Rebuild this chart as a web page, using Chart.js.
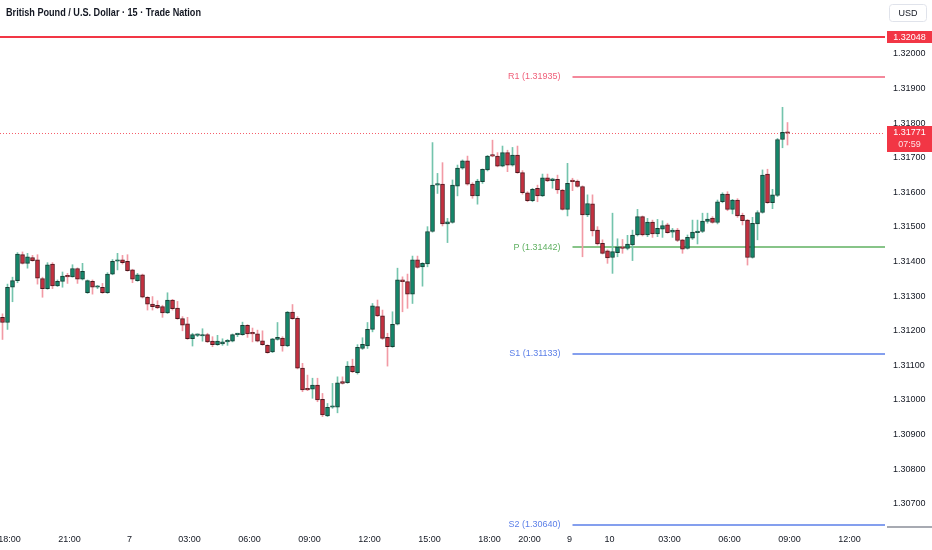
<!DOCTYPE html>
<html>
<head>
<meta charset="utf-8">
<script src="https://cdn.jsdelivr.net/npm/chart.js@4.4.1/dist/chart.umd.min.js"></script>
<style>
  html, body { margin: 0; padding: 0; background: #fff; }
  #wrap { width: 932px; height: 550px; position: relative; }
</style>
</head>
<body>
<div id="wrap"><canvas id="chart"></canvas></div>
<script>
// GBP/USD 15m candles
const openP = [
  1.31239,1.31224,1.31326,1.31345,1.31420,1.31395,1.31412,1.31405,1.31351,1.31322,
  1.31393,1.31330,1.31343,1.31360,1.31356,1.31380,1.31349,1.31310,1.31343,1.31326,
  1.31326,1.31310,1.31364,1.31401,1.31405,1.31401,1.31376,1.31345,1.31362,1.31297,
  1.31277,1.31274,1.31270,1.31252,1.31289,1.31266,1.31235,1.31220,1.31177,1.31187,
  1.31185,1.31189,1.31170,1.31160,1.31162,1.31168,1.31170,1.31189,1.31189,1.31216,
  1.31193,1.31191,1.31171,1.31158,1.31139,1.31175,1.31179,1.31156,1.31254,1.31236,
  1.31092,1.31034,1.31031,1.31043,1.31002,1.30954,1.30979,1.30979,1.31053,1.31050,
  1.31098,1.31079,1.31149,1.31156,1.31204,1.31270,1.31243,1.31181,1.31154,1.31219,
  1.31347,1.31342,1.31306,1.31405,1.31385,1.31393,1.31487,1.31621,1.31624,1.31509,
  1.31513,1.31618,1.31670,1.31691,1.31624,1.31590,1.31631,1.31665,1.31708,1.31705,
  1.31676,1.31715,1.31679,1.31708,1.31657,1.31599,1.31576,1.31612,1.31590,1.31642,
  1.31634,1.31638,1.31607,1.31551,1.31636,1.31633,1.31617,1.31535,1.31567,1.31491,
  1.31453,1.31431,1.31412,1.31426,1.31443,1.31438,1.31448,1.31477,1.31530,1.31477,
  1.31514,1.31480,1.31494,1.31506,1.31485,1.31491,1.31463,1.31438,1.31468,1.31484,
  1.31487,1.31516,1.31526,1.31513,1.31573,1.31595,1.31551,1.31578,1.31534,1.31520,
  1.31412,1.31509,1.31542,1.31653,1.31570,1.31591,1.31753,1.31773
];
const highP = [
  1.31249,1.31335,1.31355,1.31426,1.31428,1.31424,1.31418,1.31420,1.31355,1.31397,
  1.31397,1.31347,1.31370,1.31366,1.31391,1.31382,1.31395,1.31347,1.31347,1.31331,
  1.31337,1.31368,1.31406,1.31424,1.31418,1.31420,1.31378,1.31366,1.31364,1.31299,
  1.31299,1.31287,1.31274,1.31310,1.31291,1.31285,1.31241,1.31239,1.31193,1.31191,
  1.31206,1.31193,1.31183,1.31187,1.31177,1.31175,1.31191,1.31193,1.31225,1.31218,
  1.31208,1.31202,1.31200,1.31160,1.31178,1.31224,1.31183,1.31256,1.31276,1.31241,
  1.31106,1.31072,1.31063,1.31063,1.31019,1.30990,1.31048,1.31067,1.31067,1.31111,
  1.31118,1.31160,1.31180,1.31224,1.31279,1.31289,1.31260,1.31193,1.31255,1.31381,
  1.31356,1.31364,1.31416,1.31416,1.31397,1.31501,1.31744,1.31655,1.31686,1.31525,
  1.31636,1.31679,1.31694,1.31705,1.31628,1.31638,1.31668,1.31707,1.31751,1.31715,
  1.31734,1.31722,1.31730,1.31734,1.31663,1.31602,1.31612,1.31621,1.31653,1.31653,
  1.31641,1.31650,1.31609,1.31684,1.31641,1.31636,1.31619,1.31593,1.31593,1.31501,
  1.31463,1.31434,1.31540,1.31466,1.31464,1.31476,1.31491,1.31551,1.31532,1.31525,
  1.31520,1.31522,1.31518,1.31511,1.31496,1.31496,1.31464,1.31477,1.31520,1.31520,
  1.31540,1.31540,1.31530,1.31578,1.31599,1.31602,1.31580,1.31582,1.31540,1.31522,
  1.31528,1.31547,1.31665,1.31667,1.31609,1.31756,1.31846,1.31802
];
const lowP = [
  1.31175,1.31204,1.31284,1.31339,1.31393,1.31381,1.31401,1.31335,1.31297,1.31320,
  1.31322,1.31328,1.31326,1.31337,1.31355,1.31337,1.31347,1.31308,1.31306,1.31322,
  1.31308,1.31308,1.31362,1.31376,1.31393,1.31372,1.31339,1.31343,1.31295,1.31260,
  1.31260,1.31264,1.31239,1.31250,1.31260,1.31233,1.31200,1.31175,1.31156,1.31183,
  1.31170,1.31166,1.31154,1.31158,1.31158,1.31158,1.31168,1.31183,1.31187,1.31181,
  1.31168,1.31168,1.31158,1.31135,1.31137,1.31173,1.31141,1.31154,1.31233,1.31090,
  1.31024,1.31027,1.31005,1.30995,1.30952,1.30952,1.30976,1.30963,1.31046,1.31048,
  1.31079,1.31075,1.31146,1.31149,1.31197,1.31241,1.31175,1.31098,1.31152,1.31217,
  1.31255,1.31265,1.31279,1.31381,1.31329,1.31385,1.31485,1.31597,1.31503,1.31455,
  1.31511,1.31590,1.31667,1.31621,1.31583,1.31566,1.31626,1.31662,1.31703,1.31674,
  1.31674,1.31660,1.31676,1.31655,1.31595,1.31573,1.31573,1.31573,1.31588,1.31631,
  1.31612,1.31597,1.31549,1.31532,1.31605,1.31615,1.31414,1.31530,1.31474,1.31448,
  1.31422,1.31395,1.31366,1.31414,1.31424,1.31434,1.31403,1.31474,1.31474,1.31472,
  1.31470,1.31472,1.31470,1.31482,1.31470,1.31458,1.31424,1.31436,1.31464,1.31451,
  1.31484,1.31511,1.31511,1.31509,1.31570,1.31547,1.31538,1.31528,1.31506,1.31390,
  1.31410,1.31463,1.31540,1.31568,1.31553,1.31588,1.31729,1.31737
];
const closeP = [
  1.31224,1.31326,1.31345,1.31422,1.31395,1.31414,1.31403,1.31352,1.31322,1.31391,
  1.31330,1.31343,1.31358,1.31356,1.31380,1.31349,1.31372,1.31345,1.31326,1.31328,
  1.31310,1.31364,1.31401,1.31403,1.31397,1.31374,1.31349,1.31362,1.31297,1.31277,
  1.31270,1.31266,1.31252,1.31289,1.31264,1.31235,1.31216,1.31177,1.31189,1.31189,
  1.31189,1.31168,1.31160,1.31170,1.31168,1.31170,1.31189,1.31191,1.31216,1.31191,
  1.31191,1.31170,1.31160,1.31137,1.31177,1.31181,1.31156,1.31254,1.31235,1.31092,
  1.31029,1.31029,1.31043,1.31000,1.30957,1.30979,1.30983,1.31050,1.31048,1.31098,
  1.31082,1.31152,1.31161,1.31204,1.31272,1.31243,1.31178,1.31154,1.31219,1.31347,
  1.31342,1.31306,1.31405,1.31383,1.31395,1.31487,1.31621,1.31624,1.31509,1.31515,
  1.31621,1.31670,1.31691,1.31624,1.31590,1.31633,1.31667,1.31705,1.31705,1.31676,
  1.31715,1.31679,1.31708,1.31657,1.31599,1.31576,1.31609,1.31590,1.31642,1.31633,
  1.31639,1.31607,1.31551,1.31626,1.31631,1.31617,1.31535,1.31568,1.31489,1.31451,
  1.31424,1.31411,1.31429,1.31443,1.31438,1.31451,1.31477,1.31530,1.31477,1.31514,
  1.31480,1.31496,1.31504,1.31484,1.31491,1.31461,1.31436,1.31470,1.31485,1.31487,
  1.31517,1.31523,1.31513,1.31573,1.31595,1.31551,1.31578,1.31532,1.31518,1.31412,
  1.31511,1.31542,1.31650,1.31570,1.31593,1.31753,1.31774,1.31771
];

// time axis: which slot gets which label
const tickIndex = [1, 13, 25, 37, 49, 61, 73, 85, 97, 105, 113, 121, 133, 145, 157, 169];
const tickText = ['18:00', '21:00', '7', '03:00', '06:00', '09:00', '12:00', '15:00', '18:00', '20:00', '9', '10', '03:00', '06:00', '09:00', '12:00'];
const priceTicks = [1.307, 1.308, 1.309, 1.310, 1.311, 1.312, 1.313, 1.314, 1.315, 1.316, 1.317, 1.318, 1.319, 1.320];

// pivot levels for the new session
const pivotNames = ['R1', 'P', 'S1', 'S2'];
const pivotValues = [1.31935, 1.31442, 1.31133, 1.30640];
const pivotStart = 113;

const levelPrice = 1.32048;
const lastPrice = 1.31771;
const countdown = '07:59';

const slotCount = 177;   // includes empty future slots on the right
const labels = [];
for (let i = 0; i < slotCount; i++) {
    let day, mins;
    if (i < 113) { day = 6; mins = 17 * 60 + 45 + i * 15; }
    else { day = 9; mins = 22 * 60 + (i - 113) * 15; }
    day += Math.floor(mins / 1440);
    mins = mins % 1440;
    labels.push(day + ' ' + String(Math.floor(mins / 60)).padStart(2, '0') + ':' + String(mins % 60).padStart(2, '0'));
}

const UP = '#13876a', UP_EDGE = '#173f35', UP_WICK = '#74c4ad';
const DN = '#c5303f', DN_EDGE = '#4e1a20', DN_WICK = '#f29aa5';
const pivotColors = ['#f0607a', '#5fb061', '#5b7fe8', '#5b7fe8'];
const TXT = '#131722';
const FONT = '"Liberation Sans", Arial, sans-serif';

const isUp = openP.map((o, i) => closeP[i] >= o);

const overlay = {
    id: 'overlay',
    beforeDatasetsDraw(chart) {
        const { ctx, chartArea: a, scales: { x, y } } = chart;
        ctx.save();
        // horizontal level at the top
        let py = Math.round(y.getPixelForValue(levelPrice));
        ctx.strokeStyle = '#f23645';
        ctx.lineWidth = 2;
        ctx.beginPath(); ctx.moveTo(a.left, py); ctx.lineTo(a.right, py); ctx.stroke();

        // pivot lines
        const x0 = x.getPixelForValue(pivotStart) + 5;
        pivotValues.forEach((v, k) => {
            const yy = Math.round(y.getPixelForValue(v));
            ctx.strokeStyle = pivotColors[k];
            ctx.lineWidth = 1.5;
            ctx.beginPath(); ctx.moveTo(x0, yy); ctx.lineTo(a.right, yy); ctx.stroke();
        });

        // last price dotted line
        py = Math.round(y.getPixelForValue(lastPrice)) + 0.5;
        ctx.strokeStyle = 'rgba(242,54,69,0.8)';
        ctx.lineWidth = 1;
        ctx.setLineDash([1, 2]);
        ctx.beginPath(); ctx.moveTo(a.left, py); ctx.lineTo(a.right, py); ctx.stroke();
        ctx.restore();
    },
    afterDraw(chart) {
        const { ctx, chartArea: a, scales: { x, y } } = chart;
        const W = chart.width;
        ctx.save();

        // pivot labels
        const x0 = x.getPixelForValue(pivotStart) + 5;
        ctx.font = '9px ' + FONT;
        ctx.textAlign = 'right';
        ctx.textBaseline = 'middle';
        pivotValues.forEach((v, k) => {
            ctx.fillStyle = pivotColors[k];
            ctx.fillText(pivotNames[k] + ' (' + v.toFixed(5) + ')', x0 - 12, y.getPixelForValue(v));
        });

        // title
        ctx.textAlign = 'left';
        ctx.fillStyle = TXT;
        ctx.font = 'bold 10.5px ' + FONT;
        ctx.fillText('British Pound / U.S. Dollar \u00b7 15 \u00b7 Trade Nation', 6, 13, 195);

        // currency box
        ctx.strokeStyle = '#e0e3eb';
        ctx.lineWidth = 1;
        ctx.beginPath();
        ctx.roundRect(889.5, 4.5, 37, 17, 3);
        ctx.stroke();
        ctx.font = '9px ' + FONT;
        ctx.textAlign = 'center';
        ctx.fillText('USD', 908, 13.5);

        // level price tag
        let py = Math.round(y.getPixelForValue(levelPrice));
        ctx.fillStyle = '#f23645';
        ctx.fillRect(a.right + 2, py - 6, W - a.right - 2, 12);
        ctx.fillStyle = '#fff';
        ctx.fillText(levelPrice.toFixed(5), (a.right + 2 + W) / 2, py + 0.5);

        // last price tag with countdown
        py = Math.round(y.getPixelForValue(lastPrice));
        ctx.fillStyle = '#f23645';
        ctx.fillRect(a.right + 2, py - 7, W - a.right - 2, 26);
        ctx.fillStyle = '#fff';
        ctx.fillText(lastPrice.toFixed(5), (a.right + 2 + W) / 2, py);
        ctx.fillStyle = 'rgba(255,255,255,0.85)';
        ctx.fillText(countdown, (a.right + 2 + W) / 2, py + 12);

        // small rule under the price scale
        ctx.strokeStyle = '#8a8e99';
        ctx.lineWidth = 1.5;
        ctx.beginPath(); ctx.moveTo(a.right + 2, a.bottom - 1); ctx.lineTo(W, a.bottom - 1); ctx.stroke();
        ctx.restore();
    }
};

const ctx = document.getElementById('chart').getContext('2d');
new Chart(ctx, {
    type: 'bar',
    data: {
        labels: labels,
        datasets: [
            {
                label: 'body',
                data: openP.map((o, i) => [o, closeP[i]]),
                backgroundColor: isUp.map(u => u ? UP : DN),
                borderColor: isUp.map(u => u ? UP_EDGE : DN_EDGE),
                borderWidth: 1,
                borderSkipped: false,
                barThickness: 4,
                minBarLength: 1.5,
                grouped: false,
                order: 0
            },
            {
                label: 'wick',
                data: lowP.map((l, i) => [l, highP[i]]),
                backgroundColor: isUp.map(u => u ? UP_WICK : DN_WICK),
                borderWidth: 0,
                barThickness: 1,
                grouped: false,
                order: 1
            }
        ]
    },
    options: {
        responsive: true,
        maintainAspectRatio: false,
        animation: false,
        layout: { padding: 0 },
        plugins: {
            legend: { display: false },
            tooltip: { enabled: false }
        },
        scales: {
            x: {
                offset: true,
                grid: { display: false, drawTicks: false },
                border: { display: false },
                ticks: {
                    autoSkip: false,
                    maxRotation: 0,
                    padding: 6,
                    labelOffset: 2,
                    color: TXT,
                    font: { family: FONT, size: 9 },
                    callback: (v, i) => {
                        const k = tickIndex.indexOf(i);
                        return k >= 0 ? tickText[k] : '';
                    }
                },
                afterFit: s => { s.height = 22; s.paddingLeft = 0; s.paddingRight = 0; }
            },
            y: {
                position: 'right',
                min: 1.306301,
                max: 1.321561,
                grid: { display: false, drawTicks: false },
                border: { display: false },
                ticks: {
                    padding: 8,
                    color: TXT,
                    font: { family: FONT, size: 9 },
                    callback: v => Number(v).toFixed(5)
                },
                afterBuildTicks: s => { s.ticks = priceTicks.map(v => ({ value: v })); },
                afterFit: s => { s.width = 47; s.paddingTop = 0; s.paddingBottom = 0; }
            }
        }
    },
    plugins: [overlay]
});
</script>
</body>
</html>
